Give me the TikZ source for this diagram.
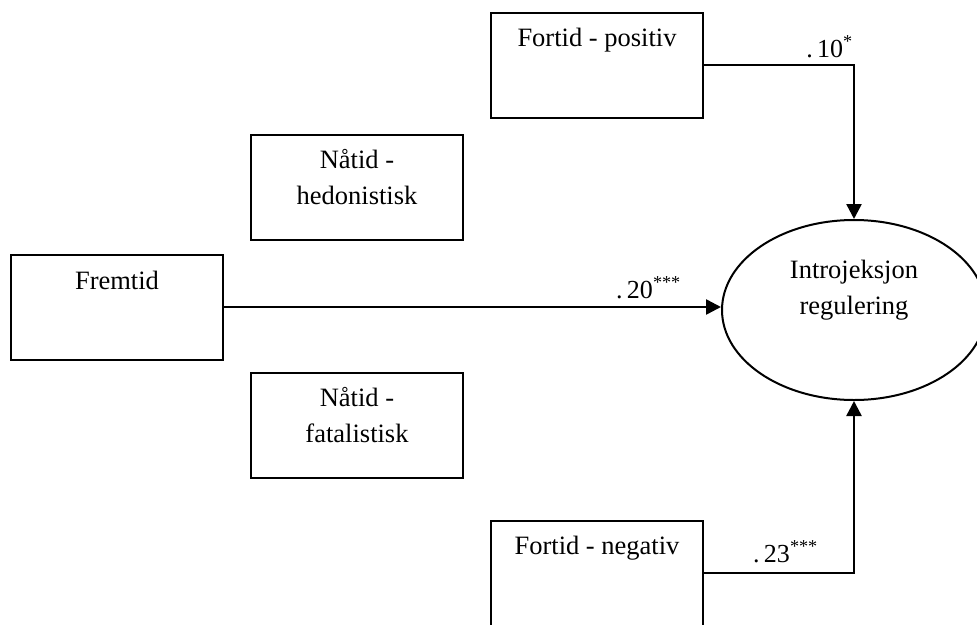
\documentclass[tikz,border=0pt]{standalone}
\usepackage{fontspec}
\setmainfont{Liberation Serif}
\usetikzlibrary{arrows.meta,shapes.geometric}
\begin{document}
\begin{tikzpicture}[x=1pt,y=-1pt,
  box/.style={draw,line width=2pt,minimum width=212pt,minimum height=105pt,inner sep=0pt},
  txt/.style={font=\fontsize{26.5}{36}\selectfont,align=center,inner sep=0pt,anchor=base},
  conn/.style={line width=2.5pt,-{Triangle[length=15pt,width=15pt]}},
  coef/.style={font=\fontsize{26}{30}\selectfont,inner sep=0pt,anchor=base east}]
\useasboundingbox (0,0) rectangle (977,624);
\node[box] (fp) at (597,65) {};
\node[box] (nh) at (357,187) {};
\node[box] (fr) at (117,307) {};
\node[box] (nf) at (357,425) {};
\node[box] (fn) at (597,573) {};
\node[draw,ellipse,line width=2pt,minimum width=264pt,minimum height=180pt,inner sep=0pt] (ell) at (854,310) {};
\node[txt] (tfp) at ([yshift=-35pt]fp.north) {Fortid - positiv};
\node[txt] (tnh) at ([yshift=-71pt]nh.north) {Nåtid -\\hedonistisk};
\node[txt] (tfr) at ([yshift=-36pt]fr.north) {Fremtid};
\node[txt] (tnf) at ([yshift=-71pt]nf.north) {Nåtid -\\fatalistisk};
\node[txt] (tfn) at ([yshift=-35pt]fn.north) {Fortid - negativ};
\node[txt] (tell) at ([yshift=-4pt]ell.center) {Introjeksjon\\regulering};
\draw[conn] (fp.east) -| (ell.north);
\draw[conn] (fr.east) -- (fr.east -| ell.west);
\draw[conn] (fn.east) -| (ell.south);
\node[coef] (c1) at (853,57) {.\,10\textsuperscript{*}};
\node[coef] (c2) at (681,298) {.\,20\textsuperscript{***}};
\node[coef] (c3) at (818,562) {.\,23\textsuperscript{***}};
\end{tikzpicture}
\end{document}
